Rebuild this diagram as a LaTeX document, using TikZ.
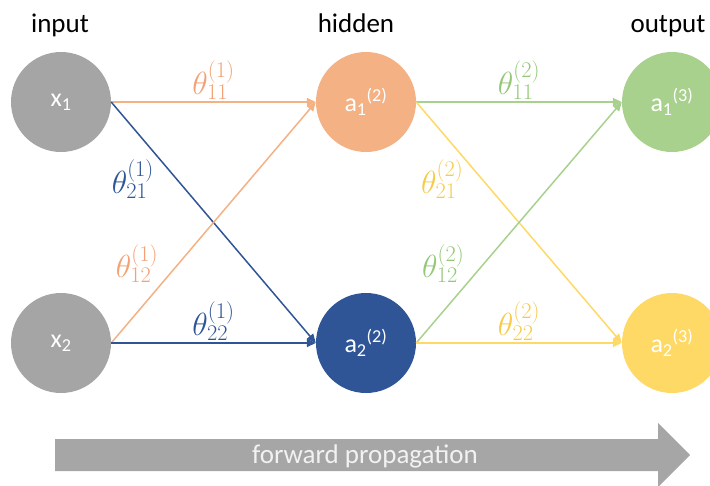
\RequirePackage{fix-cm}
\documentclass[tikz,border=0pt]{standalone}
\usepackage{fontspec}
\setsansfont{Carlito}
\usetikzlibrary{arrows.meta}

\definecolor{ingrey}{HTML}{A5A5A5}
\definecolor{horange}{HTML}{F4B183}
\definecolor{hblue}{HTML}{2F5597}
\definecolor{ogreen}{HTML}{A9D18E}
\definecolor{oyellow}{HTML}{FFD966}
\definecolor{lorange}{HTML}{F2A274}
\definecolor{lgreen}{HTML}{94C878}
\definecolor{lyellow}{HTML}{F7CB48}
\definecolor{arrowgrey}{HTML}{A6A6A6}

\tikzset{
  unit/.style={circle, minimum size=100pt, inner sep=0pt, text=white,
    font=\sffamily\fontsize{26}{30}\selectfont},
  layer/.style={font=\sffamily\fontsize{27}{32}\selectfont, anchor=base},
  weight/.style={font=\fontsize{32}{36}\selectfont, inner sep=2pt},
  link/.style={line width=1.5pt, -{Triangle[length=9pt,width=8pt]}},
}

\begin{document}
\begin{tikzpicture}[x=1pt, y=-1pt]
  \useasboundingbox (0,0) rectangle (710,485);

  % layer titles
  \node [layer] (tin) at (60,32) {input};
  \node [layer] (thid) at (356,32) {hidden};
  \node [layer] (tout) at (668,32) {output};

  % units
  \node [unit, fill=ingrey] (x1) at (61,102) {x\textsubscript{1}};
  \node [unit, fill=ingrey] (x2) at (61,343) {x\textsubscript{2}};
  \node [unit, fill=horange] (a1) at (366,102) {a\textsubscript{1}\textsuperscript{(2)}};
  \node [unit, fill=hblue] (a2) at (366,343) {a\textsubscript{2}\textsuperscript{(2)}};
  \node [unit, fill=ogreen] (o1) at (672,102) {a\textsubscript{1}\textsuperscript{(3)}};
  \node [unit, fill=oyellow] (o2) at (672,343) {a\textsubscript{2}\textsuperscript{(3)}};

  % first layer weights
  \draw [link, horange] (x1.east) -- node [weight, above, text=lorange] {$\theta^{(1)}_{11}$} (a1.west);
  \draw [link, hblue] (x1.east) -- node [weight, pos=.32, left=20pt, text=hblue] {$\theta^{(1)}_{21}$} (a2.west);
  \draw [link, horange] (x2.east) -- node [weight, pos=.33, left=18pt, text=lorange] {$\theta^{(1)}_{12}$} (a1.west);
  \draw [link, hblue] (x2.east) -- node [weight, above, text=hblue] {$\theta^{(1)}_{22}$} (a2.west);

  % second layer weights
  \draw [link, ogreen] (a1.east) -- node [weight, above, text=lgreen] {$\theta^{(2)}_{11}$} (o1.west);
  \draw [link, oyellow] (a1.east) -- node [weight, pos=.32, left=16pt, text=lyellow] {$\theta^{(2)}_{21}$} (o2.west);
  \draw [link, ogreen] (a2.east) -- node [weight, pos=.33, left=17pt, text=lgreen] {$\theta^{(2)}_{12}$} (o1.west);
  \draw [link, oyellow] (a2.east) -- node [weight, above, text=lyellow] {$\theta^{(2)}_{22}$} (o2.west);

  % direction arrow
  \fill [arrowgrey] (55,439) -- (658,439) -- (658,423) -- (690,455) -- (658,487) -- (658,471) -- (55,471) -- cycle;
  \node [layer, text=white!95!black] (fwd) at (365,463) {forward propagation};
\end{tikzpicture}
\end{document}
